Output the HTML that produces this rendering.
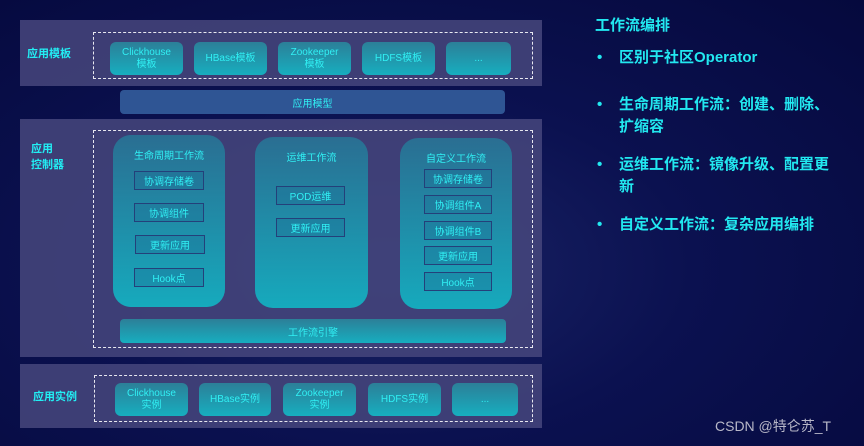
<!DOCTYPE html>
<html><head><meta charset="utf-8"><style>
*{margin:0;padding:0;box-sizing:border-box}
body{width:864px;height:446px;overflow:hidden;background:radial-gradient(ellipse at 45% 60%,#1a2466 0%,#0b1150 45%,#05093d 100%);font-family:"Liberation Sans","Noto Sans CJK SC",sans-serif;position:relative;color:#22e8f0}
.a{position:absolute}
.panel{position:absolute;background:rgba(70,70,125,0.85)}
.dash{position:absolute;border:1.5px dashed #e8e8f0}
.tile{position:absolute;border-radius:6px;background:linear-gradient(#2c7f98,#17aebf);color:#30f0f4;font-size:10px;text-align:center;display:flex;align-items:center;justify-content:center;line-height:12px}
.col{position:absolute;border-radius:18px;background:linear-gradient(#2a6e92,#16aabd);}
.col .t{position:absolute;top:12px;width:100%;text-align:center;font-size:10px;color:#30f0f4}
.box{position:absolute;border:1.5px solid #24407a;color:#30f0f4;font-size:10px;display:flex;align-items:center;justify-content:center;background:rgba(30,110,150,0.35)}
.lbl{position:absolute;font-size:11px;font-weight:bold;color:#22eef4;line-height:16px}
.r{position:absolute;font-size:15px;color:#22e8f0;line-height:22px;font-weight:bold}
</style></head><body>
<div class="panel" style="left:20px;top:20px;width:522px;height:66px"></div>
<div class="lbl" style="left:27px;top:46px">应用模板</div>
<div class="dash" style="left:93px;top:32px;width:440px;height:47px"></div>
<div class="tile" style="left:110px;top:42px;width:73px;height:33px">Clickhouse<br>模板</div>
<div class="tile" style="left:194px;top:42px;width:73px;height:33px">HBase模板</div>
<div class="tile" style="left:278px;top:42px;width:73px;height:33px">Zookeeper<br>模板</div>
<div class="tile" style="left:362px;top:42px;width:73px;height:33px">HDFS模板</div>
<div class="tile" style="left:446px;top:42px;width:65px;height:33px">...</div>
<div class="a" style="left:120px;top:90px;width:385px;height:24px;background:#2f5594;border-radius:4px;color:#30f0f4;font-size:10px;display:flex;align-items:center;justify-content:center">应用模型</div>

<div class="panel" style="left:20px;top:119px;width:522px;height:238px"></div>
<div class="lbl" style="left:31px;top:141px">应用<br>控制器</div>
<div class="dash" style="left:93px;top:130px;width:440px;height:218px"></div>
<div class="col" style="left:113px;top:135px;width:112px;height:172px"><div class="t">生命周期工作流</div></div>
<div class="box" style="left:134px;top:171px;width:70px;height:19px">协调存储卷</div>
<div class="box" style="left:134px;top:203px;width:70px;height:19px">协调组件</div>
<div class="box" style="left:135px;top:235px;width:70px;height:19px">更新应用</div>
<div class="box" style="left:134px;top:268px;width:70px;height:19px">Hook点</div>
<div class="col" style="left:255px;top:137px;width:113px;height:171px"><div class="t">运维工作流</div></div>
<div class="box" style="left:276px;top:186px;width:69px;height:19px">POD运维</div>
<div class="box" style="left:276px;top:218px;width:69px;height:19px">更新应用</div>
<div class="col" style="left:400px;top:138px;width:112px;height:171px"><div class="t">自定义工作流</div></div>
<div class="box" style="left:424px;top:169px;width:68px;height:19px">协调存储卷</div>
<div class="box" style="left:424px;top:195px;width:68px;height:19px">协调组件A</div>
<div class="box" style="left:424px;top:221px;width:68px;height:19px">协调组件B</div>
<div class="box" style="left:424px;top:246px;width:68px;height:19px">更新应用</div>
<div class="box" style="left:424px;top:272px;width:68px;height:19px">Hook点</div>
<div class="a" style="left:120px;top:319px;width:386px;height:24px;border-radius:4px;background:linear-gradient(#2c7f98,#17aebf);color:#30f0f4;font-size:10px;display:flex;align-items:center;justify-content:center">工作流引擎</div>

<div class="panel" style="left:20px;top:364px;width:522px;height:64px"></div>
<div class="lbl" style="left:33px;top:389px">应用实例</div>
<div class="dash" style="left:94px;top:375px;width:439px;height:47px"></div>
<div class="tile" style="left:115px;top:383px;width:73px;height:33px">Clickhouse<br>实例</div>
<div class="tile" style="left:199px;top:383px;width:72px;height:33px">HBase实例</div>
<div class="tile" style="left:283px;top:383px;width:73px;height:33px">Zookeeper<br>实例</div>
<div class="tile" style="left:368px;top:383px;width:73px;height:33px">HDFS实例</div>
<div class="tile" style="left:452px;top:383px;width:66px;height:33px">...</div>

<div class="r" style="left:595px;top:15px">工作流编排</div>
<div class="r" style="left:597px;top:47px">•</div><div class="r" style="left:619px;top:47px">区别于社区Operator</div>
<div class="r" style="left:597px;top:94px">•</div><div class="r" style="left:619px;top:94px;width:235px">生命周期工作流：创建、删除、<br>扩缩容</div>
<div class="r" style="left:597px;top:154px">•</div><div class="r" style="left:619px;top:154px;width:235px">运维工作流：镜像升级、配置更<br>新</div>
<div class="r" style="left:597px;top:214px">•</div><div class="r" style="left:619px;top:214px">自定义工作流：复杂应用编排</div>
<div class="a" style="left:715px;top:416px;font-size:14px;color:#b8b8c8">CSDN @特仑苏_T</div>
</body></html>
